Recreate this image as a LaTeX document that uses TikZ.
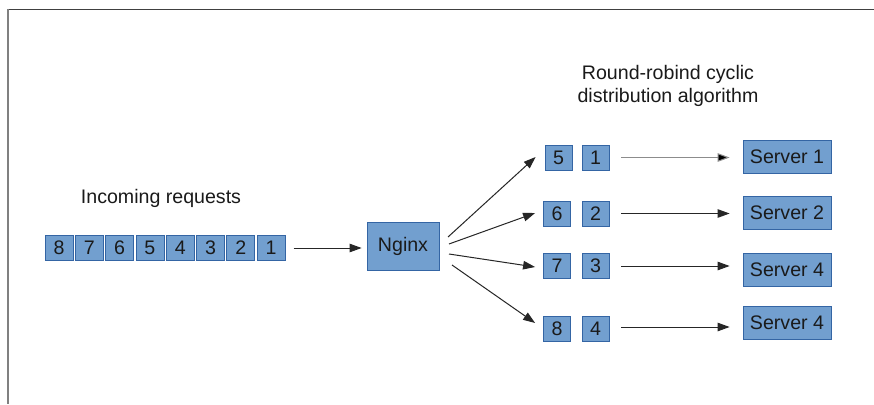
\documentclass[tikz,border=0pt]{standalone}
\usepackage{fontspec}
\setmainfont{Liberation Sans}
\usetikzlibrary{arrows.meta,calc}
\definecolor{boxfill}{HTML}{729FCF}
\definecolor{boxline}{HTML}{3465A4}
\definecolor{inkc}{HTML}{1A1A1A}
\begin{document}
\begin{tikzpicture}[x=1pt,y=-1pt,
  every node/.style={font=\fontsize{19.6}{23}\selectfont, text=inkc, inner sep=0pt},
  qbox/.style={draw=boxline, fill=boxfill, line width=0.8pt, minimum width=28pt, minimum height=25pt},
  rbox/.style={draw=boxline, fill=boxfill, line width=0.8pt, minimum width=27pt, minimum height=25pt},
  sbox/.style={draw=boxline, fill=boxfill, line width=0.8pt, minimum width=88pt, minimum height=33pt},
  conn/.style={draw=black!85, line width=1pt, -{Triangle[length=12pt,width=8.5pt]}},
  lightconn/.style={draw=black!45, line width=1pt, -{Triangle[length=12pt,width=8.5pt,fill=black]}}
]
\useasboundingbox (0,0) rectangle (874,404);
\fill[white] (0,0) rectangle (874,404);
% frame
\draw[black!75, line width=1.3pt] (8,9.5) -- (874,9.5);
\draw[black!50, line width=2pt] (8,9) -- (8,404);

% incoming queue
\node at (161,198) {Incoming requests};
\foreach \n [count=\i from 0] in {8,7,6,5,4,3,2,1} {
  \node[qbox] (q\n) at ({59+30.3*\i},248) {\n};
}
\node[draw=boxline, fill=boxfill, line width=0.8pt, minimum width=72pt, minimum height=48pt] (nginx) at (403,246) {Nginx};
\draw[conn, shorten <=8pt, shorten >=5pt] (q1.east) -- (q1.east -| nginx.west);

% title
\node[align=center] at (668,86) {Round-robind cyclic\\distribution algorithm};

% right columns
\node[rbox] (a1) at (558.5,157.5) {5};
\node[rbox] (b1) at (595.5,157.5) {1};
\node[rbox] (a2) at (557,213.5) {6};
\node[rbox] (b2) at (595.5,213.5) {2};
\node[rbox] (a3) at (557,266) {7};
\node[rbox] (b3) at (595.5,266) {3};
\node[rbox] (a4) at (557,329) {8};
\node[rbox] (b4) at (595.5,329) {4};

% servers
\node[sbox] (s1) at (787,156.5) {Server 1};
\node[sbox] (s2) at (787,212.5) {Server 2};
\node[sbox] (s3) at (787,269.5) {Server 4};
\node[sbox] (s4) at (787,323) {Server 4};

% fan-out from nginx
\coordinate (n1) at (448,237);
\coordinate (n2) at (449,244);
\coordinate (n3) at (449,254);
\coordinate (n4) at (452,265);
\draw[conn] (n1) -- ($(a1.west)+(-9,-0.5)$);
\draw[conn] (n2) -- ($(a2.west)+(-8,-0.5)$);
\draw[conn] (n3) -- ($(a3.west)+(-8,1)$);
\draw[conn] (n4) -- ($(a4.west)+(-8,-6)$);

% to servers
\draw[lightconn, shorten <=12pt, shorten >=13pt] (b1.east) -- (b1.east -| s1.west);
\draw[conn, shorten <=12pt, shorten >=13pt] (b2.east) -- (b2.east -| s2.west);
\draw[conn, shorten <=12pt, shorten >=13pt] (b3.east) -- (b3.east -| s3.west);
\draw[conn, shorten <=12pt, shorten >=13pt] ($(b4.east)+(0,-2)$) -- ($(b4.east -| s4.west)+(0,-2)$);
\end{tikzpicture}
\end{document}
